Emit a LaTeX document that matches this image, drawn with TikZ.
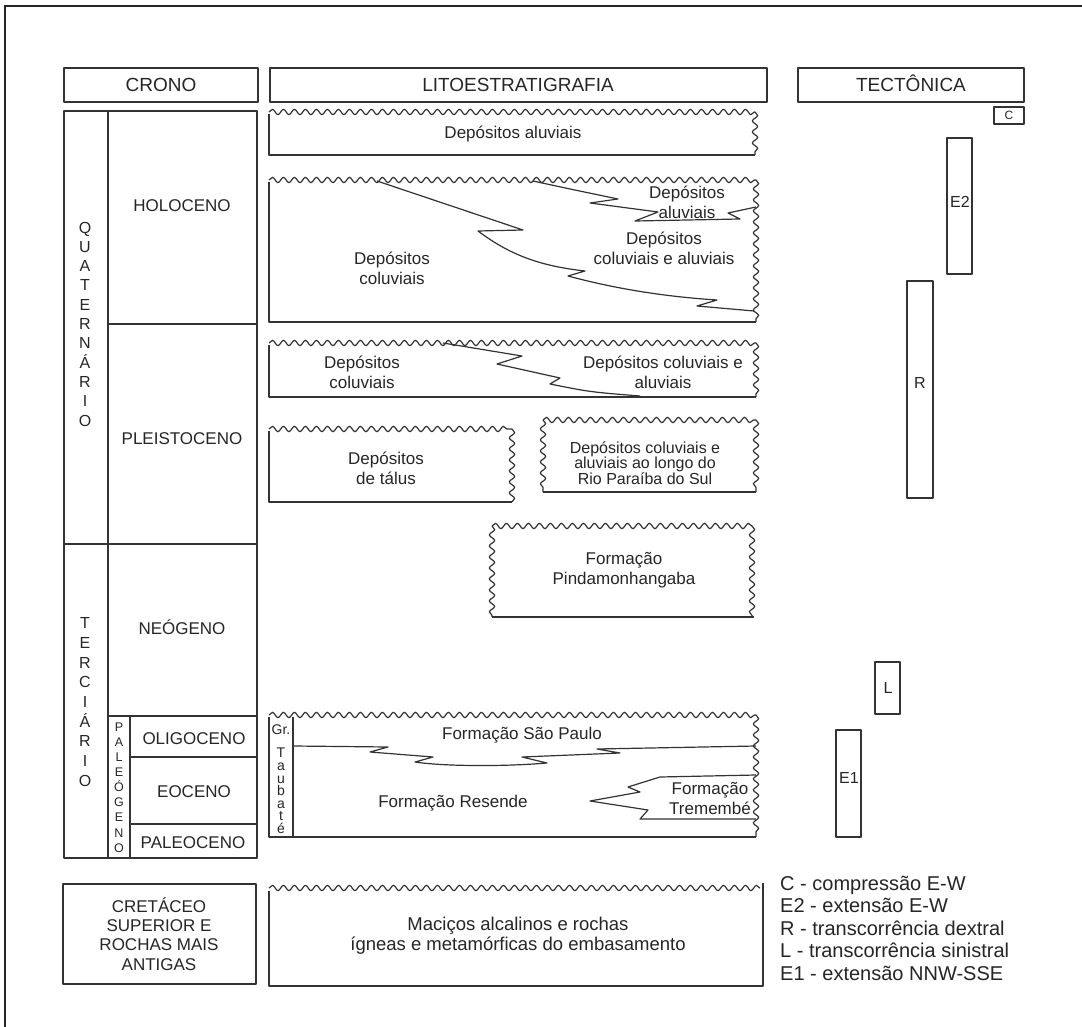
\documentclass[tikz,border=0pt]{standalone}
\usepackage{fontspec}
\setmainfont{Liberation Sans}
\usetikzlibrary{decorations.pathmorphing}
\tikzset{
  ln/.style={draw=black!80, line width=1.2pt, line join=round},
  wv/.style={draw=black!80, line width=1.2pt, decorate, decoration={snake, amplitude=2.6pt, segment length=11pt}},
  thk/.style={draw=black!85, line width=2.4pt},
  txt/.style={inner sep=0pt, align=center, text=black!85, font=\fontsize{17}{20}\selectfont},
  txtR/.style={txt, font=\fontsize{16}{15.6}\selectfont},
  hdr/.style={inner sep=0pt, anchor=base, text=black!85, font=\fontsize{19}{20}\selectfont},
  per/.style={inner sep=0pt, anchor=base, text=black!85, font=\fontsize{17}{18}\selectfont},
  vq/.style={txt, font=\fontsize{16}{19.3}\selectfont},
  vtc/.style={txt, font=\fontsize{16}{19.7}\selectfont},
  vp/.style={txt, font=\fontsize{12.5}{15.1}\selectfont},
  vt/.style={txt, anchor=north, font=\fontsize{14}{12.6}\selectfont},
  leg/.style={inner sep=0pt, anchor=base west, text=black!85, font=\fontsize{20}{21}\selectfont},
  tec/.style={txt, font=\fontsize{16}{17}\selectfont},
}
\begin{document}
\begin{tikzpicture}[x=1pt,y=-1pt]
\useasboundingbox (0,0) rectangle (1082,1027);
\fill[white] (0,0) rectangle (1082,1027);
% outer frame (cropped)
\draw[thk] (5,1027) -- (5,6) -- (1082,6);

% headers
\draw[ln] (64,68) rectangle (258,102);
\draw[ln] (270,68) rectangle (767,102);
\draw[ln] (798,68) rectangle (1024,102);
\node[hdr] (hcrono) at (161,92) {CRONO};
\node[hdr] (hlito) at (518,92) {LITOESTRATIGRAFIA};
\node[hdr] (htec) at (911,92) {TECTÔNICA};

% chronology column
\draw[ln] (64,111) rectangle (257,858);
\draw[ln] (108,111) -- (108,858);
\draw[ln] (108,324) -- (257,324);
\draw[ln] (64,544) -- (257,544);
\draw[ln] (108,716) -- (257,716);
\draw[ln] (130,716) -- (130,858);
\draw[ln] (130,757) -- (257,757);
\draw[ln] (130,824) -- (257,824);
\node[vq] (quat) at (85,324) {Q\\U\\A\\T\\E\\R\\N\\Á\\R\\I\\O};
\node[vtc] (terc) at (85,702) {T\\E\\R\\C\\I\\Á\\R\\I\\O};
\node[vp] (paleog) at (119,787.5) {P\\A\\L\\E\\Ó\\G\\E\\N\\O};
\node[per] (holo) at (182,212) {HOLOCENO};
\node[per] (pleis) at (182,444) {PLEISTOCENO};
\node[per] (neog) at (182,634) {NEÓGENO};
\node[per] (olig) at (194,744) {OLIGOCENO};
\node[per] (eoc) at (194,797) {EOCENO};
\node[per] (paleoc) at (193,848) {PALEOCENO};

% Cretaceous box
\draw[ln] (63,884) rectangle (256,984);
\node[txt, font=\fontsize{17}{19.3}\selectfont] (cret) at (159,934) {CRETÁCEO\\SUPERIOR E\\ROCHAS MAIS\\ANTIGAS};

% --- lithostratigraphy ---
% aluvial deposits (top)
\draw[wv] (269,112) -- (755,112);
\draw[wv] (755,112) -- (755,155);
\draw[ln] (269,114) -- (269,155) -- (755,155);
\node[txt] (alu) at (513,134) {Depósitos aluviais};

% Holocene
\draw[wv] (269,180) -- (756,180);
\draw[wv] (756,180) -- (756,322);
\draw[ln] (269,182) -- (269,322) -- (756,322);
\draw[ln] (377,181) -- (523,230) -- (478,231) .. controls (510,255) and (540,266) .. (585,271) -- (568,276) .. controls (620,290) and (670,297) .. (717,300) -- (697,306) -- (754,311);
\draw[ln] (533,181) .. controls (570,189) .. (618,199) -- (590,203) -- (658,212) -- (635,221) -- (740,219) -- (728,213) -- (756,207);
\node[txt] (holA) at (687,202) {Depósitos\\aluviais};
\node[txt] (holCA) at (664,248) {Depósitos\\coluviais e aluviais};
\node[txt] (holC) at (392,268) {Depósitos\\coluviais};

% Pleistocene upper
\draw[wv] (269,343) -- (756,343);
\draw[wv] (756,343) -- (756,397);
\draw[ln] (269,345) -- (269,397) -- (756,397);
\draw[ln] (443,343) -- (522,356) -- (497,364) -- (560,378) -- (550,384) .. controls (590,392) .. (640,396);
\node[txt] (plC) at (362,372) {Depósitos\\coluviais};
\node[txt] (plCA) at (663,372) {Depósitos coluviais e\\aluviais};

% talus
\draw[wv] (269,429) -- (512,429);
\draw[wv] (512,429) -- (512,502);
\draw[ln] (269,431) -- (269,502) -- (512,502);
\node[txt] (tal) at (386,468) {Depósitos\\de tálus};

% Rio Paraiba
\draw[wv] (543,420) -- (756,420);
\draw[wv] (756,420) -- (756,492);
\draw[wv] (543,420) -- (543,492);
\draw[ln] (543,492) -- (756,492);
\node[txtR] (rio) at (645,463) {Depósitos coluviais e\\aluviais ao longo do\\Rio Paraíba do Sul};

% Pindamonhangaba
\draw[wv] (492,526) -- (752,526);
\draw[wv] (752,526) -- (752,617);
\draw[wv] (492,526) -- (492,617);
\draw[ln] (492,617) -- (754,617);
\node[txt] (pin) at (624,570) {Formação\\Pindamonhangaba};

% Taubate group
\draw[wv] (269,715) -- (756,715);
\draw[wv] (756,715) -- (756,837);
\draw[ln] (269,717) -- (269,837) -- (756,837);
\draw[ln] (293,717) -- (293,837);
\draw[ln] (293,746) -- (388,747) -- (370,752) -- (433,757) -- (415,762) .. controls (440,766) and (500,767) .. (547,763) -- (522,757) -- (620,753) -- (597,749) -- (756,746);
\draw[ln] (756,775) -- (660,777) -- (628,787) -- (640,792) -- (590,801) -- (648,810) -- (640,819) -- (756,819);
\node[txt, font=\fontsize{14}{15}\selectfont] (gr) at (281,730) {Gr.};
\node[vt] (taub) at (281,748) {T\\a\\u\\b\\a\\t\\é};
\node[txt] (sp) at (522,735) {Formação São Paulo};
\node[txt] (res) at (453,803) {Formação Resende};
\node[txt] (trem) at (710,798) {Formação\\Tremembé};

% basement
\draw[wv] (269,888) -- (760,888);
\draw[ln] (269,891) -- (269,986) -- (763,986) -- (763,883);
\node[txt, font=\fontsize{18.5}{20}\selectfont] (mac) at (518,936) {Maciços alcalinos e rochas\\ígneas e metamórficas do embasamento};

% --- tectonics ---
\draw[ln] (994,107) rectangle (1024,124);
\node[txt, font=\fontsize{12}{12}\selectfont] (cC) at (1009,115.5) {C};
\draw[ln] (947,138) rectangle (972,274);
\node[tec] (cE2) at (960,202) {E2};
\draw[ln] (907,281) rectangle (933,498);
\node[tec] (cR) at (920,383) {R};
\draw[ln] (875,662) rectangle (900,714);
\node[tec] (cL) at (888,688) {L};
\draw[ln] (836,730) rectangle (861,837);
\node[tec] (cE1) at (849,778) {E1};

% legend
\node[leg] (l1) at (780,890) {C - compressão E-W};
\node[leg] (l2) at (780,912.5) {E2 - extensão E-W};
\node[leg] (l3) at (780,935) {R - transcorrência dextral};
\node[leg] (l4) at (780,957.5) {L - transcorrência sinistral};
\node[leg] (l5) at (780,980) {E1 - extensão NNW-SSE};
\end{tikzpicture}
\end{document}
